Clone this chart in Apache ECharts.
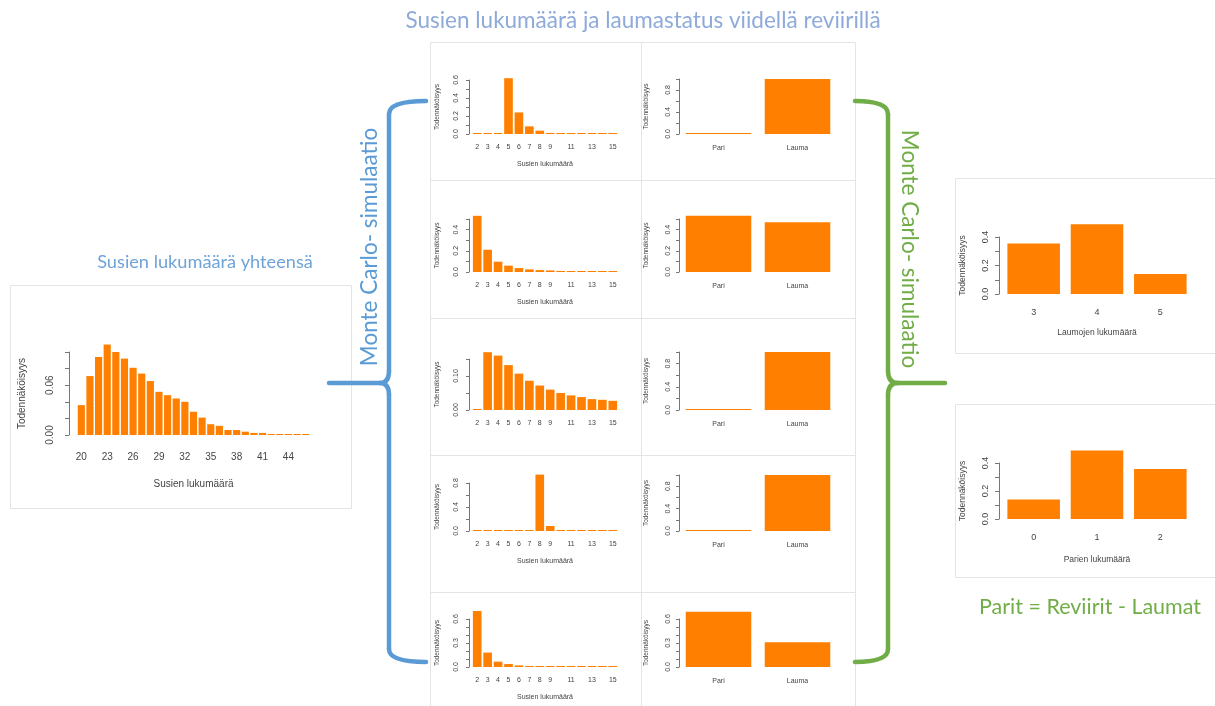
<!DOCTYPE html>
<html>
<head>
  <meta charset="utf-8">
  <script src="https://cdn.jsdelivr.net/npm/echarts@6.0.0/dist/echarts.min.js"></script>
  <style>
    body { margin: 0; background: #fff; }
  </style>
</head>
<body>
<div id="main" style="width:1215px;height:706px;"></div>
<script type="text/javascript">
// --- data ---
var totalCats = ['20','21','22','23','24','25','26','27','28','29','30','31','32','33',
                 '34','35','36','37','38','39','40','41','42','43','44','45','46'];
var totalProb = [0.036, 0.071, 0.094, 0.109, 0.100, 0.092, 0.081, 0.074, 0.065, 0.052,
                 0.048, 0.044, 0.040, 0.028, 0.021, 0.013, 0.011, 0.006, 0.006, 0.004,
                 0.0025, 0.0025, 0.0012, 0.001, 0.001, 0.0006, 0.0005];

var wolfCats = ['2','3','4','5','6','7','8','9','10','11','12','13','14','15'];
var wolves1 = [0.001, 0.001, 0.001, 0.62, 0.24, 0.085, 0.037, 0.012, 0.006, 0.003, 0.001, 0.001, 0.001, 0.001];
var wolves2 = [0.53, 0.21, 0.097, 0.06, 0.037, 0.025, 0.018, 0.015, 0.01, 0.008, 0.006, 0.005, 0.004, 0.003];
var wolves3 = [0.001, 0.170, 0.160, 0.132, 0.107, 0.086, 0.072, 0.060, 0.050, 0.043, 0.038, 0.032, 0.030, 0.027];
var wolves4 = [0.002, 0.002, 0.002, 0.002, 0.002, 0.002, 0.94, 0.083, 0.015, 0.002, 0.002, 0.002, 0.002, 0.002];
var wolves5 = [0.70, 0.18, 0.067, 0.037, 0.02, 0.012, 0.008, 0.005, 0.003, 0.002, 0.002, 0.001, 0.001, 0.001];

var statusCats = ['Pari', 'Lauma'];
var status1 = [0.002, 1.0];
var status2 = [0.53, 0.47];
var status3 = [0.002, 1.0];
var status4 = [0.002, 1.0];
var status5 = [0.69, 0.31];

var packCats = ['3', '4', '5'];
var packProb = [0.355, 0.49, 0.14];
var pairCats = ['0', '1', '2'];
var pairProb = [0.14, 0.49, 0.357];

// --- helpers ---
var BAR = '#ff8000';
var AX = '#777';
var TXT = '#444';
var RFONT = 'Liberation Sans, Arial, sans-serif';
var OFONT = 'Lato, Open Sans, sans-serif';

var grids = [], xAxes = [], yAxes = [], series = [];

function addChart(c) {
  var i = grids.length;
  grids.push({left: c.left, top: c.top, width: c.width, height: c.base - c.top});
  xAxes.push({
    gridIndex: i, type: 'category', data: c.cats,
    axisLine: {show: false}, axisTick: {show: false}, splitLine: {show: false},
    axisLabel: {interval: c.xInterval || 0, fontSize: c.xFont, color: TXT, margin: c.xMargin, fontFamily: RFONT},
    name: c.xName || '', nameLocation: 'middle', nameGap: c.xNameGap || 20,
    nameTextStyle: {fontSize: c.xNameFont || c.xFont, color: TXT, fontFamily: RFONT}
  });
  yAxes.push({
    gridIndex: i, type: 'value', min: 0, max: c.max, interval: c.step, offset: c.offset || 0,
    axisLine: {show: true, lineStyle: {color: AX, width: 1}},
    axisTick: {show: true, length: c.tick, lineStyle: {color: AX}},
    splitLine: {show: false},
    axisLabel: {
      rotate: 90, fontSize: c.yFont, color: TXT, margin: c.yMargin, fontFamily: RFONT,
      formatter: function (v) {
        for (var k = 0; k < c.labels.length; k++) {
          if (Math.abs(c.labels[k] - v) < 1e-9) return c.labels[k].toFixed(c.dec);
        }
        return '';
      }
    },
    name: 'Todennäköisyys', nameLocation: 'middle', nameGap: c.yNameGap,
    nameTextStyle: {fontSize: c.yNameFont, color: TXT, fontFamily: RFONT}
  });
  series.push({
    type: 'bar', xAxisIndex: i, yAxisIndex: i, data: c.data,
    barWidth: '83%', barMinHeight: 1, clip: false, silent: true,
    itemStyle: {color: BAR}
  });
}

var skipEven = function (idx, val) { return !(val === '10' || val === '12' || val === '14'); };

// left: total
addChart({left: 77, width: 233, top: 352, base: 435, max: 0.10, step: 0.02, labels: [0, 0.06], dec: 2,
  cats: totalCats, data: totalProb, xInterval: 2, xFont: 10, xMargin: 17,
  xName: 'Susien lukumäärä', xNameGap: 44, xNameFont: 10,
  offset: 8, tick: 4, yFont: 10, yMargin: 14, yNameGap: 42, yNameFont: 10});

// middle rows
var rows = [
  {wolves: wolves1, status: status1, base: 134, lTop: 80,  lMax: 0.6,  lStep: 0.1,  lLab: [0, 0.2, 0.4, 0.6], lDec: 1,
   rTop: 79,  rMax: 1.0, rStep: 0.2, rLab: [0, 0.4, 0.8], rDec: 1, xName: 'Susien lukumäärä'},
  {wolves: wolves2, status: status2, base: 272, lTop: 219, lMax: 0.5,  lStep: 0.1,  lLab: [0, 0.2, 0.4], lDec: 1,
   rTop: 219, rMax: 0.5, rStep: 0.1, rLab: [0, 0.2, 0.4], rDec: 1, xName: 'Susien lukumäärä'},
  {wolves: wolves3, status: status3, base: 410, lTop: 359, lMax: 0.15, lStep: 0.05, lLab: [0, 0.10], lDec: 2,
   rTop: 352, rMax: 1.0, rStep: 0.2, rLab: [0, 0.4, 0.8], rDec: 1, xName: ''},
  {wolves: wolves4, status: status4, base: 531, lTop: 483, lMax: 0.8,  lStep: 0.2,  lLab: [0, 0.4, 0.8], lDec: 1,
   rTop: 475, rMax: 1.0, rStep: 0.2, rLab: [0, 0.4, 0.8], rDec: 1, xName: 'Susien lukumäärä'},
  {wolves: wolves5, status: status5, base: 667, lTop: 619, lMax: 0.6,  lStep: 0.1,  lLab: [0, 0.3, 0.6], lDec: 1,
   rTop: 619, rMax: 0.6, rStep: 0.1, rLab: [0, 0.3, 0.6], rDec: 1, xName: 'Susien lukumäärä'}
];
rows.forEach(function (r) {
  addChart({left: 472, width: 146, top: r.lTop, base: r.base, max: r.lMax, step: r.lStep, labels: r.lLab, dec: r.lDec,
    cats: wolfCats, data: r.wolves, xInterval: skipEven, xFont: 7, xMargin: 10,
    xName: r.xName, xNameGap: 27, xNameFont: 7,
    offset: 3, tick: 3, yFont: 7, yMargin: 9, yNameGap: 28, yNameFont: 6.5});
  addChart({left: 679, width: 158, top: r.rTop, base: r.base, max: r.rMax, step: r.rStep, labels: r.rLab, dec: r.rDec,
    cats: statusCats, data: r.status, xFont: 7, xMargin: 11,
    offset: 0, tick: 3, yFont: 7, yMargin: 7, yNameGap: 29, yNameFont: 6.5});
});

// right: packs and pairs
addChart({left: 1002, width: 190, top: 237, base: 294, max: 0.4, step: 0.1, labels: [0, 0.2, 0.4], dec: 1,
  cats: packCats, data: packProb, xFont: 9, xMargin: 14,
  xName: 'Laumojen lukumäärä', xNameGap: 34, xNameFont: 8.5,
  offset: 3, tick: 4, yFont: 9, yMargin: 9, yNameGap: 32, yNameFont: 8.5});
addChart({left: 1002, width: 190, top: 463, base: 519, max: 0.4, step: 0.1, labels: [0, 0.2, 0.4], dec: 1,
  cats: pairCats, data: pairProb, xFont: 9, xMargin: 14,
  xName: 'Parien lukumäärä', xNameGap: 36, xNameFont: 8.5,
  offset: 3, tick: 4, yFont: 9, yMargin: 9, yNameGap: 32, yNameFont: 8.5});

// --- decorations: panel frames, braces, titles ---
var els = [];
function frame(x, y, w, h) {
  els.push({type: 'rect', silent: true, z: -10, shape: {x: x + 0.5, y: y + 0.5, width: w, height: h},
    style: {fill: 'none', stroke: '#e4e4e4', lineWidth: 1}});
}
frame(10, 285, 341, 223);
[42, 180, 318, 455, 592].forEach(function (y, k) {
  var h = [138, 138, 137, 137, 114][k];
  frame(430, y, 211, h);
  frame(641, y, 214, h);
});
frame(955, 178, 262, 175);
frame(955, 404, 262, 173);

function seg(x1, y1, x2, y2, color) {
  els.push({type: 'line', silent: true, shape: {x1: x1, y1: y1, x2: x2, y2: y2},
    style: {stroke: color, lineWidth: 4.5, lineCap: 'round'}});
}
function curve(x1, y1, cx, cy, x2, y2, color) {
  els.push({type: 'bezierCurve', silent: true, shape: {x1: x1, y1: y1, cpx1: cx, cpy1: cy, x2: x2, y2: y2},
    style: {stroke: color, fill: 'none', lineWidth: 4.5, lineCap: 'round'}});
}
function brace(vx, endX, tipX, stubX, color) {
  curve(endX, 101, vx, 101, vx, 114, color);
  seg(vx, 114, vx, 371, color);
  curve(vx, 371, vx, 383, tipX, 383, color);
  curve(tipX, 383, vx, 383, vx, 395, color);
  seg(vx, 395, vx, 649, color);
  curve(vx, 649, vx, 662, endX, 662, color);
  seg(tipX, 383, stubX, 383, color);
}
var BLUE = '#5b9bd5', GREEN = '#70ad47';
brace(389, 426, 380, 329, BLUE);
brace(888, 855, 898, 945, GREEN);

function label(text, x, y, size, color, rot) {
  els.push({type: 'text', silent: true, x: x, y: y, rotation: rot || 0,
    style: {text: text, fill: color, fontSize: size, fontFamily: OFONT, align: 'center', verticalAlign: 'middle'}});
}
label('Susien lukumäärä ja laumastatus viidellä reviirillä', 643, 21, 22.5, '#8eaadb');
label('Susien lukumäärä yhteensä', 205, 262, 18.2, '#6fa3d8');
label('Monte Carlo- simulaatio', 370, 247, 22.5, BLUE, Math.PI / 2);
label('Monte Carlo- simulaatio', 909, 249, 22.5, GREEN, -Math.PI / 2);
label('Parit = Reviirit - Laumat', 1090, 607, 21.5, GREEN);

var myChart = echarts.init(document.getElementById('main'));
myChart.setOption({
  animation: false,
  backgroundColor: '#fff',
  grid: grids,
  xAxis: xAxes,
  yAxis: yAxes,
  series: series,
  graphic: {elements: els}
});
</script>
</body>
</html>
